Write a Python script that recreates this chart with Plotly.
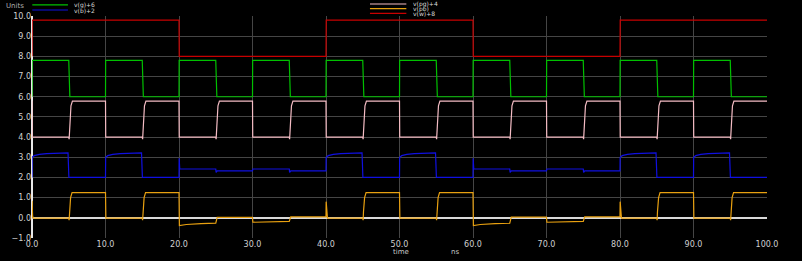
import plotly.graph_objects as go

# ---- data (time in ns, values in Units) ----
t_w = [0, 0.03, 20.0, 20.03, 40.0, 40.03, 60.0, 60.03, 80.0, 80.03, 100.0]
v_w = [8.0, 9.8, 9.8, 8.0, 8.0, 9.8, 9.8, 8.0, 8.0, 9.8, 9.8]

t_g = [0, 0.02, 5.0, 5.05, 5.15, 10.0, 10.02, 15.0, 15.05, 15.15,
       20.0, 20.02, 25.0, 25.05, 25.15, 30.0, 30.02, 35.0, 35.05, 35.15,
       40.0, 40.02, 45.0, 45.05, 45.15, 50.0, 50.02, 55.0, 55.05, 55.15,
       60.0, 60.02, 65.0, 65.05, 65.15, 70.0, 70.02, 75.0, 75.05, 75.15,
       80.0, 80.02, 85.0, 85.05, 85.15, 90.0, 90.02, 95.0, 95.05, 95.15, 100.0]
v_g = [6.0, 7.8, 7.8, 7.3, 6.0, 6.0, 7.8, 7.8, 7.3, 6.0,
       6.0, 7.8, 7.8, 7.3, 6.0, 6.0, 7.8, 7.8, 7.3, 6.0,
       6.0, 7.8, 7.8, 7.3, 6.0, 6.0, 7.8, 7.8, 7.3, 6.0,
       6.0, 7.8, 7.8, 7.3, 6.0, 6.0, 7.8, 7.8, 7.3, 6.0,
       6.0, 7.8, 7.8, 7.3, 6.0, 6.0, 7.8, 7.8, 7.3, 6.0, 6.0]

t_pg = [0, 0.03, 5.0, 5.05, 5.1, 5.3, 5.5,
        10.0, 10.03, 15.0, 15.05, 15.1, 15.3, 15.5,
        20.0, 20.03, 25.0, 25.05, 25.1, 25.3, 25.5,
        30.0, 30.03, 35.0, 35.05, 35.1, 35.3, 35.5,
        40.0, 40.03, 45.0, 45.05, 45.1, 45.3, 45.5,
        50.0, 50.03, 55.0, 55.05, 55.1, 55.3, 55.5,
        60.0, 60.03, 65.0, 65.05, 65.1, 65.3, 65.5,
        70.0, 70.03, 75.0, 75.05, 75.1, 75.3, 75.5,
        80.0, 80.03, 85.0, 85.05, 85.1, 85.3, 85.5,
        90.0, 90.03, 95.0, 95.05, 95.1, 95.3, 95.5, 100.0]
v_pg = [5.8, 4.0, 4.0, 3.9, 4.2, 5.55, 5.78,
        5.78, 4.0, 4.0, 3.9, 4.2, 5.55, 5.78,
        5.78, 4.0, 4.0, 3.9, 4.2, 5.55, 5.78,
        5.78, 4.0, 4.0, 3.9, 4.2, 5.55, 5.78,
        5.78, 4.0, 4.0, 3.9, 4.2, 5.55, 5.78,
        5.78, 4.0, 4.0, 3.9, 4.2, 5.55, 5.78,
        5.78, 4.0, 4.0, 3.9, 4.2, 5.55, 5.78,
        5.78, 4.0, 4.0, 3.9, 4.2, 5.55, 5.78,
        5.78, 4.0, 4.0, 3.9, 4.2, 5.55, 5.78,
        5.78, 4.0, 4.0, 3.9, 4.2, 5.55, 5.78, 5.78]

t_b = [0, 0.02, 0.3, 1.0, 2.0, 4.9, 5.02, 10.0,
       10.02, 10.3, 11.0, 12.0, 14.9, 15.02, 20.0,
       20.02, 20.1, 25.0, 25.05, 25.2, 30.0, 30.05, 35.0, 35.05, 35.2, 40.0,
       40.02, 40.3, 41.0, 42.0, 44.9, 45.02, 50.0,
       50.02, 50.3, 51.0, 52.0, 54.9, 55.02, 60.0,
       60.02, 60.1, 65.0, 65.05, 65.2, 70.0, 70.05, 75.0, 75.05, 75.2, 80.0,
       80.02, 80.3, 81.0, 82.0, 84.9, 85.02, 90.0,
       90.02, 90.3, 91.0, 92.0, 94.9, 95.02, 100.0]
v_b = [2.0, 3.0, 3.08, 3.14, 3.18, 3.22, 2.0, 2.0,
       3.0, 3.08, 3.14, 3.18, 3.22, 2.0, 2.0,
       2.95, 2.43, 2.42, 2.25, 2.33, 2.33, 2.42, 2.42, 2.25, 2.33, 2.33,
       3.0, 3.08, 3.14, 3.18, 3.22, 2.0, 2.0,
       3.0, 3.08, 3.14, 3.18, 3.22, 2.0, 2.0,
       2.95, 2.43, 2.42, 2.25, 2.33, 2.33, 2.42, 2.42, 2.25, 2.33, 2.33,
       3.0, 3.08, 3.14, 3.18, 3.22, 2.0, 2.0,
       3.0, 3.08, 3.14, 3.18, 3.22, 2.0, 2.0]

t_pb = [0, 0.01, 0.08, 0.15, 5.0, 5.05, 5.1, 5.25, 5.45, 10.0,
        10.05, 15.0, 15.05, 15.1, 15.25, 15.45, 20.0,
        20.05, 21.0, 23.0, 25.0, 25.2, 30.0, 30.05, 35.0, 35.2, 40.0,
        40.02, 40.1, 40.2, 45.0, 45.05, 45.1, 45.25, 45.45, 50.0,
        50.05, 55.0, 55.05, 55.1, 55.25, 55.45, 60.0,
        60.05, 61.0, 63.0, 65.0, 65.2, 70.0, 70.05, 75.0, 75.2, 80.0,
        80.02, 80.1, 80.2, 85.0, 85.05, 85.1, 85.25, 85.45, 90.0,
        90.05, 95.0, 95.05, 95.1, 95.25, 95.45, 100.0]
v_pb = [0.0, 0.85, 0.1, -0.02, -0.02, -0.12, 0.3, 1.0, 1.25, 1.25,
        -0.02, -0.02, -0.12, 0.3, 1.0, 1.25, 1.25,
        -0.38, -0.33, -0.29, -0.26, 0.02, 0.02, -0.22, -0.18, 0.05, 0.05,
        0.8, 0.0, -0.02, -0.02, -0.12, 0.3, 1.0, 1.25, 1.25,
        -0.02, -0.02, -0.12, 0.3, 1.0, 1.25, 1.25,
        -0.38, -0.33, -0.29, -0.27, 0.03, 0.03, -0.22, -0.18, 0.05, 0.05,
        0.8, 0.0, -0.02, -0.02, -0.12, 0.3, 1.0, 1.25, 1.25,
        -0.02, -0.02, -0.12, 0.3, 1.0, 1.25, 1.25]

x_ticks = [0, 10, 20, 30, 40, 50, 60, 70, 80, 90, 100]
y_ticks = [-1, 0, 1, 2, 3, 4, 5, 6, 7, 8, 9, 10]

series = [
    ("v(g)+6", t_g, v_g, "#00c000"),
    ("v(b)+2", t_b, v_b, "#1010e0"),
    ("v(pg)+4", t_pg, v_pg, "#f4bcc4"),
    ("v(pb)", t_pb, v_pb, "#e8a010"),
    ("v(w)+8", t_w, v_w, "#c80000"),
]

fig = go.Figure()
for name, t, v, c in series:
    fig.add_trace(go.Scatter(x=t, y=v, mode="lines", name=name,
                             line=dict(color=c, width=1.2), showlegend=False,
                             hoverinfo="skip"))

font = dict(family="DejaVu Sans", size=8, color="#d0d0d0")
fig.update_layout(
    width=802, height=261,
    margin=dict(l=31, r=35, t=16, b=15),
    paper_bgcolor="black", plot_bgcolor="black",
    font=font,
    xaxis=dict(range=[0, 100], tickvals=x_ticks, tickformat=".1f",
               showgrid=True, gridcolor="#454545", gridwidth=1,
               zeroline=True, zerolinecolor="#e8e8e8", zerolinewidth=1.5,
               showline=False, ticks="", tickfont=font),
    yaxis=dict(range=[-1, 10], tickvals=y_ticks, tickformat=".1f",
               showgrid=True, gridcolor="#454545", gridwidth=1,
               zeroline=True, zerolinecolor="#d8d8d8", zerolinewidth=1.5,
               showline=False, ticks="", tickfont=font),
    hovermode=False,
)

# Legend (drawn as small annotations/lines above the plot)
leg_font = dict(family="DejaVu Sans", size=6, color="#d8d8d8")
fig.add_annotation(text="Units", xref="paper", yref="paper", x=-0.038, y=1.046,
                   xanchor="left", yanchor="middle", showarrow=False,
                   font=dict(family="DejaVu Sans", size=7, color="#b0b0b0"))
legend_groups = [
    (0.0004, 0.0489, 0.0561, [(0, 1.050), (1, 1.027)]),
    (0.4598, 0.5093, 0.5165, [(2, 1.054), (3, 1.033), (4, 1.012)]),
]
for x0, x1, xt, items in legend_groups:
    for idx, yy in items:
        name, _, _, c = series[idx]
        fig.add_shape(type="line", xref="paper", yref="paper",
                      x0=x0, x1=x1, y0=yy, y1=yy,
                      line=dict(color=c, width=1.2))
        fig.add_annotation(text=name, xref="paper", yref="paper", x=xt, y=yy,
                           xanchor="left", yanchor="middle", showarrow=False,
                           font=leg_font, borderpad=0)

fig.add_annotation(text="time", xref="paper", yref="paper", x=0.5015, y=0,
                   xanchor="center", yanchor="top", yshift=-9, showarrow=False,
                   font=dict(family="DejaVu Sans", size=7, color="#c8c8c8"),
                   borderpad=0)
fig.add_annotation(text="ns", xref="paper", yref="paper", x=0.576, y=0,
                   xanchor="center", yanchor="top", yshift=-9, showarrow=False,
                   font=dict(family="DejaVu Sans", size=7, color="#c8c8c8"),
                   borderpad=0)

fig.write_html("out.html", config={"displayModeBar": False})
